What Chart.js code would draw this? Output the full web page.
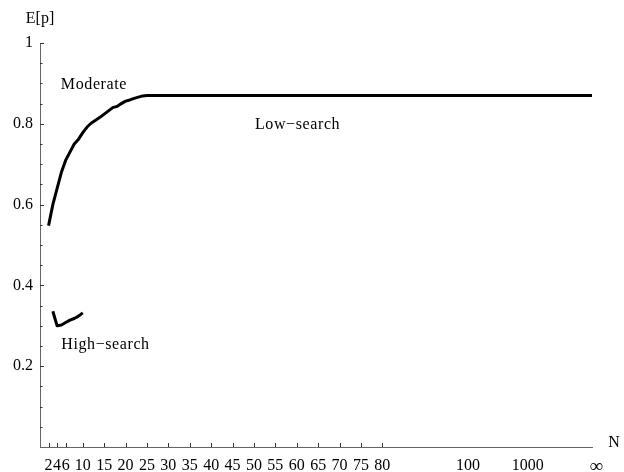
<!DOCTYPE html>
<html><head><meta charset="utf-8">
<script src="https://cdn.jsdelivr.net/npm/chart.js@4/dist/chart.umd.min.js"></script>
<style>html,body{margin:0;padding:0;background:#fff}canvas{display:block}</style>
</head><body>
<canvas id="c" width="624" height="472"></canvas>
<script>
// ---- data ----
const moderateN = [2,3,4,5,6,7,8,9,10,11,12,13,14,15,16,17,18,19,20,21,22,23,24,25,129];
const moderateE = [0.548,0.600,0.640,0.680,0.710,0.730,0.750,0.762,0.778,0.792,0.802,0.809,0.816,0.824,0.832,0.840,0.843,0.850,0.856,0.859,0.863,0.866,0.869,0.870,0.870];
const highN = [3,4,5,6,7,8,9,10];
const highE = [0.336,0.300,0.302,0.308,0.314,0.318,0.324,0.332];
const xTickValues = [2,4,6,10,15,20,25,30,35,40,45,50,55,60,65,70,75,80,100,114,130];
const xTickLabels = ['2','4','6','10','15','20','25','30','35','40','45','50','55','60','65','70','75','80','100','1000','\u221E'];
const xTickMarked = [2,4,6,10,15,20,25,30,35,40,45,50,55,60,65,70,75,80];
const yMajorTicks = [0.2,0.4,0.6,0.8,1];
const yMinorTicks = [0.05,0.1,0.15,0.25,0.3,0.35,0.45,0.5,0.55,0.65,0.7,0.75,0.85,0.9,0.95];
const noteText = ['Moderate','Low\u2212search','High\u2212search'];
const noteN = [12.6,60.2,15.3];
const noteE = [0.896,0.797,0.252];

const FONT = '"Liberation Serif", "Times New Roman", serif';

const overlay = {
  id: 'overlay',
  afterDraw(chart) {
    const ctx = chart.ctx, xs = chart.scales.x, ys = chart.scales.y;
    const x0 = xs.left, y0 = ys.bottom;
    ctx.save();
    ctx.strokeStyle = '#333';
    ctx.lineWidth = 1;
    ctx.beginPath();
    xTickMarked.forEach(v => {
      const px = Math.round(xs.getPixelForValue(v)) + 0.5;
      ctx.moveTo(px, y0); ctx.lineTo(px, y0 - 4);
    });
    yMajorTicks.forEach(v => {
      const py = Math.round(ys.getPixelForValue(v)) + 0.5;
      ctx.moveTo(x0, py); ctx.lineTo(x0 + 4, py);
    });
    yMinorTicks.forEach(v => {
      const py = Math.round(ys.getPixelForValue(v)) + 0.5;
      ctx.moveTo(x0, py); ctx.lineTo(x0 + 2.5, py);
    });
    ctx.stroke();

    ctx.fillStyle = '#000';
    ctx.font = '16px ' + FONT;
    ctx.textAlign = 'center';
    ctx.textBaseline = 'middle';
    try { ctx.letterSpacing = '0.6px'; } catch(e) {}
    noteText.forEach((t, i) => {
      ctx.fillText(t, xs.getPixelForValue(noteN[i]), ys.getPixelForValue(noteE[i]));
    });
    try { ctx.letterSpacing = '0px'; } catch(e) {}
    ctx.fillText('E[p]', x0, ys.top - 24);
    ctx.fillText('N', xs.right + 22, y0 - 4);
    ctx.restore();
  }
};

new Chart(document.getElementById('c'), {
  type: 'line',
  data: {
    datasets: [
      { data: moderateN.map((n, i) => ({x: n, y: moderateE[i]})) },
      { data: highN.map((n, i) => ({x: n, y: highE[i]})) }
    ]
  },
  options: {
    responsive: false,
    animation: false,
    devicePixelRatio: 1,
    layout: { padding: { left: 0, right: 32, top: 43, bottom: 0 } },
    elements: {
      point: { radius: 0 },
      line: { borderColor: '#000', borderWidth: 3, tension: 0, borderJoinStyle: 'round', borderCapStyle: 'butt' }
    },
    plugins: { legend: { display: false }, tooltip: { enabled: false } },
    scales: {
      x: {
        type: 'linear', min: 0, max: 129,
        grid: { display: false, drawTicks: false },
        border: { display: true, color: '#666', width: 1 },
        afterBuildTicks: s => { s.ticks = xTickValues.map(v => ({ value: v })); },
        afterFit: s => { s.height = 25; },
        ticks: {
          autoSkip: false, maxRotation: 0, minRotation: 0, padding: 9,
          color: '#000',
          font: c => (c.index === xTickLabels.length - 1 ? { family: FONT, size: 19 } : { family: FONT, size: 16 }),
          callback: (v, i) => xTickLabels[i]
        }
      },
      y: {
        type: 'linear', min: 0, max: 1,
        grid: { display: false, drawTicks: false },
        border: { display: true, color: '#666', width: 1 },
        afterBuildTicks: s => { s.ticks = yMajorTicks.map(v => ({ value: v })); },
        afterFit: s => { s.width = 40; },
        ticks: {
          padding: 7, color: '#000', font: { family: FONT, size: 16 },
          callback: v => String(Math.round(v * 10) / 10)
        }
      }
    }
  },
  plugins: [overlay]
});
</script>
</body></html>
